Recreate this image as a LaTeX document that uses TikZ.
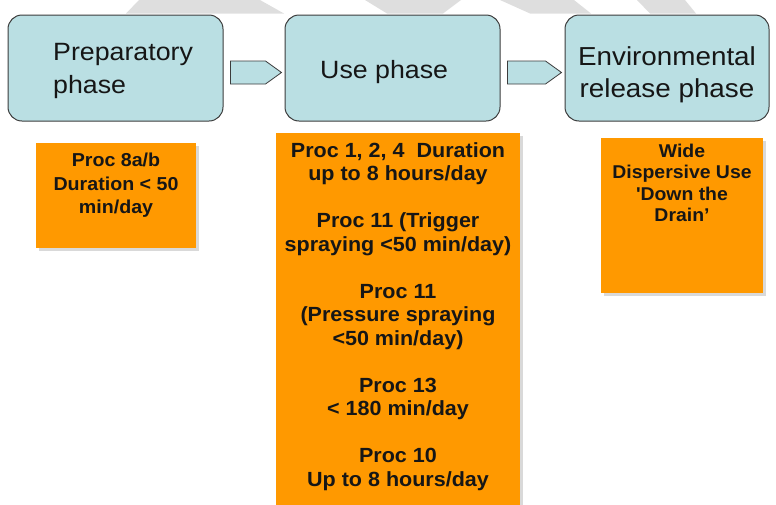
\documentclass[tikz,border=0pt]{standalone}
\usepackage{fontspec}
\setmainfont{Liberation Sans}[FakeStretch=1.07]
\newfontfamily\procfont{Liberation Sans}[FakeStretch=1.05]
\usetikzlibrary{positioning,shadows}
\definecolor{phaseblue}{RGB}{186,223,227}
\definecolor{procorange}{RGB}{255,153,0}
\definecolor{edgegray}{RGB}{60,60,60}
\definecolor{markgray}{RGB}{222,222,222}
\definecolor{inkblack}{RGB}{22,22,22}
\tikzset{
  phase/.style={draw=edgegray,line width=1pt,fill=phaseblue,rounded corners=14pt,minimum height=106pt,inner sep=0pt},
  phasetext/.style={font=\fontsize{25}{33}\selectfont,text=inkblack,inner sep=0pt},
  proc/.style={fill=procorange,inner sep=0pt,drop shadow={opacity=0.3,shadow xshift=2.5pt,shadow yshift=-2.5pt}},
  proctext/.style={font=\procfont\bfseries\fontsize{18.7}{23.5}\selectfont,text=inkblack,align=center,inner sep=0pt},
  flow/.style={draw=edgegray,line width=0.8pt,fill=phaseblue,line join=miter}
}
\begin{document}
\begin{tikzpicture}[x=1pt,y=-1pt]
\useasboundingbox (0,0) rectangle (776,504);
\clip (0,0) rectangle (776,504);

\fill[markgray] (139,0) -- (260,0) -- (284,13.5) -- (126,13.5) -- cycle;
\fill[markgray] (365,0) -- (461,0) -- (443,13.5) -- (387,13.5) -- cycle;
\fill[markgray] (500,0) -- (574,0) -- (591,13.5) -- (530,13.5) -- cycle;
\fill[markgray] (637,0) -- (685,0) -- (696,13.5) -- (650,13.5) -- cycle;

\node[phase,minimum width=215pt] (prep) at (115.5,68) {};
\node[phase,minimum width=215pt] (use) at (392.5,68) {};
\node[phase,minimum width=204pt] (env) at (667,68) {};
\node[phasetext,align=left,anchor=north west] (preplabel) at (53,43) {Preparatory\\phase};
\node[phasetext,anchor=base west] (uselabel) at (320,78) {Use phase};
\node[phasetext,font=\fontsize{26}{32}\selectfont,align=center,anchor=north] (envlabel) at (667,46.5) {Environmental\\release phase};

\draw[flow] ([xshift=7pt,yshift=7pt]prep.east) -- ([xshift=-19pt,yshift=7pt]use.west) -- ([xshift=-3pt,yshift=-4.5pt]use.west) -- ([xshift=-19pt,yshift=-16pt]use.west) -- ([xshift=7pt,yshift=-16pt]prep.east) -- cycle;
\draw[flow] ([xshift=7pt,yshift=7pt]use.east) -- ([xshift=-19pt,yshift=7pt]env.west) -- ([xshift=-3pt,yshift=-4.5pt]env.west) -- ([xshift=-19pt,yshift=-16pt]env.west) -- ([xshift=7pt,yshift=-16pt]use.east) -- cycle;

\node[proc,minimum width=160pt,minimum height=105pt] (prepproc) at (116,195.5) {};
\node[proc,minimum width=244pt,minimum height=382pt] (useproc) at (398,324) {};
\node[proc,minimum width=162pt,minimum height=155pt] (envproc) at (682,215.5) {};

\node[proctext,below=10pt of prepproc.north] (preptext) {Proc 8a/b\\Duration < 50\\min/day};
\node[proctext,font=\procfont\bfseries\fontsize{20.5}{23.5}\selectfont,below=9.5pt of useproc.north] (usetext) {Proc 1, 2, 4\ \ Duration\\up to 8 hours/day\\[23.5pt]
Proc 11 (Trigger\\spraying <50 min/day)\\[23.5pt]
Proc 11\\(Pressure spraying\\<50 min/day)\\[23.5pt]
Proc 13\\< 180 min/day\\[23.5pt]
Proc 10\\Up to 8 hours/day};
\node[proctext,font=\procfont\bfseries\fontsize{18.5}{21.5}\selectfont,below=5.7pt of envproc.north] (envtext) {Wide\\Dispersive Use\\\textquotesingle Down the\\Drain’};
\end{tikzpicture}
\end{document}
